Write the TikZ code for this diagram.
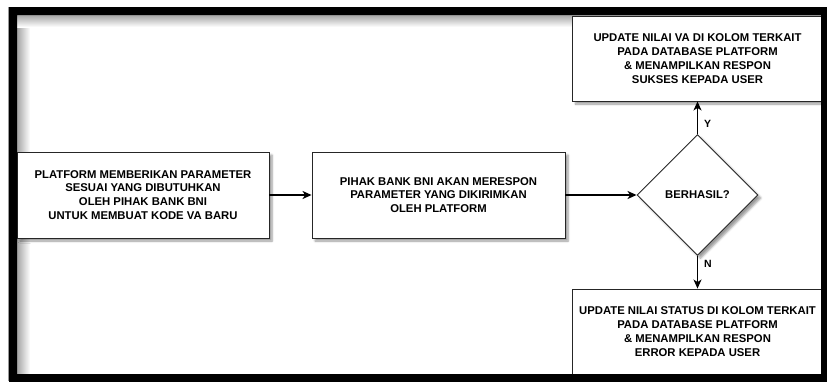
\documentclass[tikz,border=0pt]{standalone}
\usepackage{fontspec}
\setmainfont{Liberation Sans}
\usetikzlibrary{shapes.geometric,arrows.meta,shadows.blur}
\tikzset{
  box/.style={draw=black!85, line width=0.9pt, fill=white, rectangle, inner sep=0pt,
    align=center, font=\fontsize{11.3}{13.8}\selectfont\bfseries,
    blur shadow={shadow xshift=3pt, shadow yshift=-3pt, shadow blur steps=6, shadow opacity=40}},
  dec/.style={draw=black!85, line width=0.9pt, fill=white, diamond, inner sep=0pt,
    minimum width=121pt, minimum height=121pt, font=\fontsize{11.3}{13.8}\selectfont\bfseries,
    blur shadow={shadow xshift=3pt, shadow yshift=-3pt, shadow blur steps=6, shadow opacity=40}},
  conn/.style={line width=1.4pt, -{Stealth[length=9pt,width=8pt,inset=2.5pt]}},
  lbl/.style={font=\fontsize{10.5}{12}\selectfont\bfseries, inner sep=0pt}
}
\begin{document}
\begin{tikzpicture}[x=1pt,y=-1pt]
\useasboundingbox (0,0) rectangle (827,381);
% inner shadow of frame
\shade[left color=black!35, right color=white] (17,15) rectangle (30,374);
\shade[top color=black!35, bottom color=white] (17,15) rectangle (821,27);
\node[box, minimum width=252pt, minimum height=86pt] (p1) at (143,195)
  {PLATFORM MEMBERIKAN PARAMETER\\SESUAI YANG DIBUTUHKAN\\OLEH PIHAK BANK BNI\\UNTUK MEMBUAT KODE VA BARU};
\node[box, minimum width=253pt, minimum height=86pt] (p2) at (438.5,195)
  {PIHAK BANK BNI AKAN MERESPON\\PARAMETER YANG DIKIRIMKAN\\OLEH PLATFORM};
\node[dec] (d) at (697.5,195) {BERHASIL?};
\node[box, minimum width=250pt, minimum height=85pt] (ok) at (697.5,58.5)
  {UPDATE NILAI VA DI KOLOM TERKAIT\\PADA DATABASE PLATFORM\\\&~MENAMPILKAN RESPON\\SUKSES KEPADA USER};
\node[box, minimum width=250pt, minimum height=85pt] (err) at (697.5,331.5)
  {UPDATE NILAI STATUS DI KOLOM TERKAIT\\PADA DATABASE PLATFORM\\\&~MENAMPILKAN RESPON\\ERROR KEPADA USER};
\draw[conn] (p1.east) -- (p2.west);
\draw[conn] (p2.east) -- (d.west);
\draw[conn] (d.north) -- (ok.south) node[lbl, pos=0.3, right=6pt] (ly) {Y};
\draw[conn] (d.south) -- (err.north) node[lbl, pos=0.25, right=6pt] (ln) {N};
% black frame
\fill[black, even odd rule] (9,7) rectangle (830,384) (17,15) rectangle (821,374);
\draw[black!40, line width=0.6pt] (8.5,7) -- (8.5,381);
\end{tikzpicture}
\end{document}
